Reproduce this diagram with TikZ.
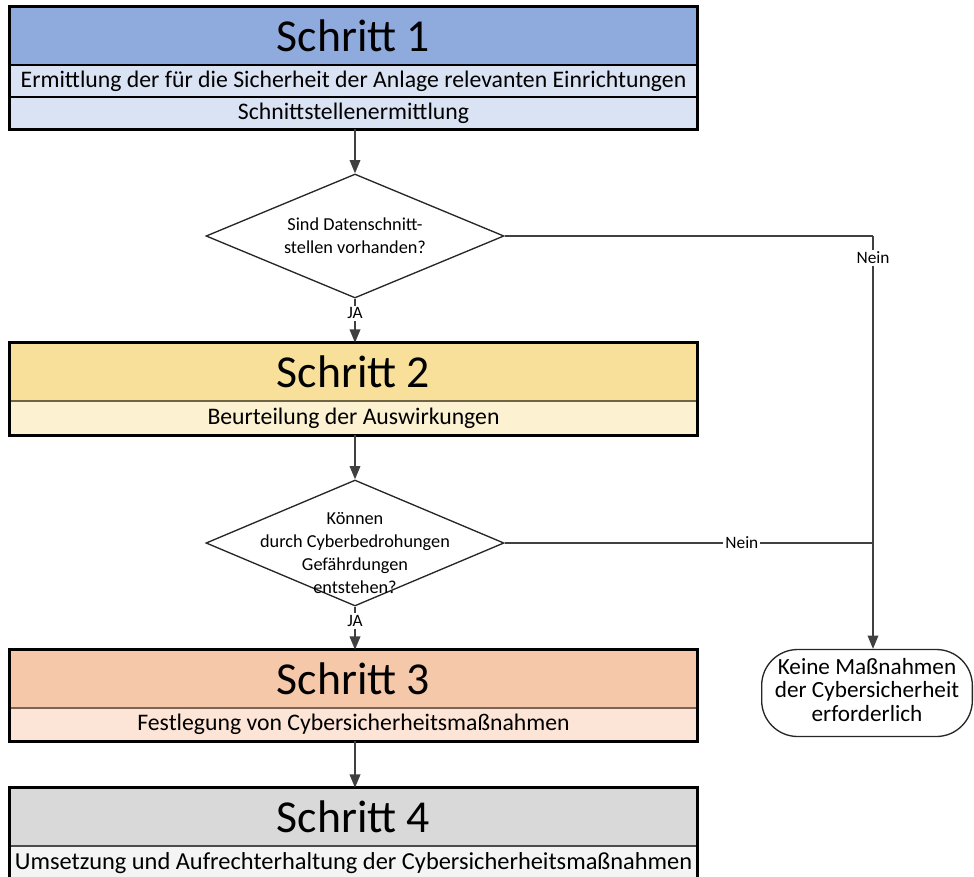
\documentclass[tikz,border=0pt]{standalone}
\usepackage{fontspec}
\setmainfont{Carlito}
\usetikzlibrary{shapes.geometric,arrows.meta}
\definecolor{hA}{HTML}{8FAADC}
\definecolor{rA}{HTML}{DAE3F3}
\definecolor{hB}{HTML}{F8E09A}
\definecolor{rB}{HTML}{FCF1D0}
\definecolor{hC}{HTML}{F6C8AA}
\definecolor{rC}{HTML}{FCE4D6}
\definecolor{hD}{HTML}{D9D9D9}
\definecolor{rD}{HTML}{F4F4F4}
\definecolor{lineC}{HTML}{404040}
\begin{document}
\begin{tikzpicture}[x=0.75pt,y=-0.75pt,
  hdr/.style={minimum width=515.25pt, minimum height=43.5pt, inner sep=0pt, font=\fontsize{34.3}{40}\selectfont},
  rowbox/.style={minimum width=515.25pt, minimum height=24pt, inner sep=0pt, font=\fontsize{17.8}{21}\selectfont},
  outerbox/.style={draw=black, line width=2pt},
  sepline/.style={line width=1.4pt},
  dec/.style={diamond, draw=black!85, line width=1pt, minimum width=223.5pt, minimum height=93pt, inner sep=0pt},
  dectext/.style={align=center, font=\fontsize{13.7}{17.25}\selectfont, inner sep=0pt},
  term/.style={draw=black!85, line width=1pt, rounded corners=27pt, minimum width=158pt, minimum height=65.25pt, align=center, font=\fontsize{17.4}{17.7}\selectfont, inner sep=0pt},
  conn/.style={draw=lineC, line width=1.1pt},
  arr/.style={conn, -{Triangle[width=8pt,length=10pt]}},
  lbl/.style={font=\fontsize{13}{15}\selectfont, fill=white, inner sep=1.5pt}
]
\useasboundingbox (0,0) rectangle (974,876);

% Schritt 1
\node[hdr, fill=hA] (h1) at (353.5,36) {Schritt 1};
\node[rowbox, fill=rA] (r11) at (353.5,81) {Ermittlung der für die Sicherheit der Anlage relevanten Einrichtungen};
\node[rowbox, fill=rA] (r12) at (353.5,113) {Schnittstellenermittlung};
\draw[sepline, draw=black] (h1.south west) -- (h1.south east);
\draw[sepline, draw=black] (r11.south west) -- (r11.south east);
\draw[outerbox] (h1.north west) rectangle (r12.south east);

% Schritt 2
\node[hdr, fill=hB] (h2) at (353.5,372) {Schritt 2};
\node[rowbox, fill=rB, minimum height=25.5pt] (r2) at (353.5,418) {Beurteilung der Auswirkungen};
\draw[sepline, draw=hB!45!black] (h2.south west) -- (h2.south east);
\draw[outerbox] (h2.north west) rectangle (r2.south east);

% Schritt 3
\node[hdr, fill=hC] (h3) at (353.5,679) {Schritt 3};
\node[rowbox, fill=rC, minimum height=24.75pt] (r3) at (353.5,724.5) {Festlegung von Cybersicherheitsmaßnahmen};
\draw[sepline, draw=hC!50!black] (h3.south west) -- (h3.south east);
\draw[outerbox] (h3.north west) rectangle (r3.south east);

% Schritt 4
\node[hdr, fill=hD] (h4) at (353.5,817) {Schritt 4};
\node[rowbox, fill=rD, minimum height=25.5pt, font=\fontsize{18.3}{21}\selectfont] (r4) at (353.5,863) {Umsetzung und Aufrechterhaltung der Cybersicherheitsmaßnahmen};
\draw[sepline, draw=black!70] (h4.south west) -- (h4.south east);
\draw[outerbox] (h4.north west) rectangle (r4.south east);

% decisions
\node[dec] (d1) at (355,236) {};
\node[dectext] (d1t) at (d1) {Sind Datenschnitt-\\stellen vorhanden?};
\node[dec, minimum height=94.5pt] (d2) at (355,543) {};
\node[dectext] (d2t) at (355,553) {Können\\durch Cyberbedrohungen\\Gefährdungen\\entstehen?};

% terminator
\node[term] (k) at (867,693) {};
\node[align=center, font=\fontsize{17.4}{17.7}\selectfont, inner sep=0pt] (kt) at (867,690) {Keine Maßnahmen\\der Cybersicherheit\\erforderlich};

% connectors
\coordinate (c1) at (873,236);
\draw[arr] (r12.south -| d1.north) -- (d1.north);
\draw[arr] (d1.south) -- node[lbl, pos=0.33] {JA} (d1.south |- h2.north);
\draw[arr] (r2.south -| d2.north) -- (d2.north);
\draw[arr] (d2.south) -- node[lbl, pos=0.33] {JA} (d2.south |- h3.north);
\draw[arr] (r3.south -| d2.south) -- (d2.south |- h4.north);
\draw[conn] (d1.east) -- (c1);
\draw[arr] (c1) -- node[lbl, pos=0.053] {Nein} (c1 |- k.north);
\draw[conn] (d2.east) -- node[lbl, pos=0.644] {Nein} (d2.east -| c1);
\end{tikzpicture}
\end{document}
